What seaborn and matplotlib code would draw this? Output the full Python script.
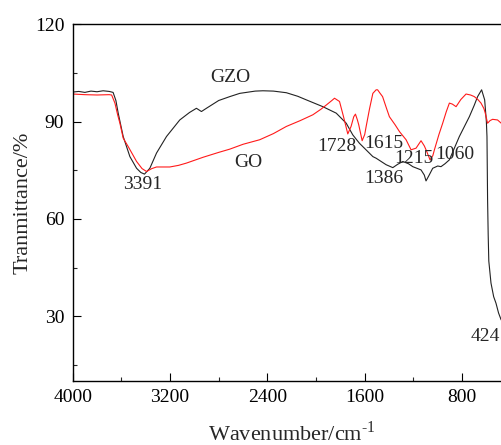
import numpy as np
import pandas as pd
import matplotlib
matplotlib.use("Agg")
import matplotlib.pyplot as plt
import seaborn as sns

# ---- data ----
gzo_wn = [4000, 3950, 3900, 3850, 3800, 3750, 3700, 3668, 3645, 3626, 3585, 3530, 3475,
          3440, 3410, 3366, 3311, 3229, 3120, 3040, 2983, 2942, 2901, 2800, 2709,
          2627, 2500, 2436, 2350, 2244, 2150, 2080, 1944, 1834, 1752, 1698, 1643,
          1616, 1533, 1506, 1424, 1369, 1330, 1287, 1240, 1205, 1137, 1110, 1096,
          1070, 1041, 1000, 973, 940, 904, 822, 740, 700, 672, 639, 614, 600, 595,
          590, 585, 580, 562, 540, 521, 500, 480, 450, 424, 400]
gzo_t = [99.1, 99.3, 99.0, 99.4, 99.2, 99.5, 99.3, 99.0, 96.5, 92.6, 85.4, 79.2, 75.6,
         74.3, 73.8, 75.6, 80.3, 85.4, 90.5, 92.8, 94.1, 93.1, 94.1, 96.5, 97.7,
         98.7, 99.4, 99.5, 99.4, 98.9, 97.8, 96.7, 94.6, 92.6, 89.5, 85.9, 83.3,
         82.3, 79.2, 78.7, 76.7, 75.8, 76.8, 77.7, 77.0, 76.1, 75.1, 73.5, 71.7,
         73.5, 75.6, 76.3, 76.1, 77.0, 78.2, 85.4, 91.5, 95.0, 97.7, 99.8, 96.7, 90.0, 85.4,
         65.9, 55.0, 47.0, 40.2, 36.0, 34.0, 31.0, 29.0, 27.0, 26.0, 25.0]

go_wn = [4000, 3900, 3800, 3700, 3680, 3653, 3630, 3612, 3585, 3544, 3475, 3430, 3393,
         3350, 3311, 3202, 3130, 3065, 2928, 2800, 2709, 2600, 2463, 2350, 2244,
         2130, 2026, 1960, 1916, 1870, 1848, 1807, 1774, 1739, 1712, 1690, 1676,
         1660, 1649, 1621, 1600, 1588, 1560, 1533, 1506, 1494, 1475, 1453, 1420,
         1397, 1350, 1314, 1260, 1219, 1178, 1137, 1110, 1096, 1063, 1040, 1027,
         990, 959, 930, 904, 880, 849, 810, 767, 730, 699, 670, 644, 620, 609,
         590, 570, 549, 508, 478, 450, 424, 400]
go_t = [98.5, 98.3, 98.2, 98.3, 98.2, 95.7, 92.0, 89.5, 84.9, 82.3, 77.7, 75.5, 74.6,
        75.5, 76.0, 76.0, 76.5, 77.2, 79.0, 80.5, 81.5, 83.0, 84.4, 86.3, 88.5,
        90.3, 92.1, 93.8, 95.1, 96.5, 97.2, 96.2, 91.5, 86.2, 88.5, 91.5, 92.3,
        90.5, 89.0, 84.1, 86.0, 88.5, 94.0, 98.7, 99.8, 99.8, 98.8, 97.7, 94.0,
        91.5, 89.0, 86.9, 84.4, 81.3, 81.8, 84.1, 82.5, 81.3, 78.2, 79.5, 81.3,
        86.0, 89.5, 93.0, 95.7, 95.4, 94.6, 96.8, 98.5, 98.2, 97.7, 96.8, 95.7, 94.0, 92.6,
        89.5, 90.3, 90.7, 90.5, 89.5, 89.0, 89.5, 89.0]

peak_labels = ["3391", "1728", "1615", "1215", "1060", "1386", "424"]
peak_x = [3425, 1825, 1447, 1200, 857, 1441, 611]
peak_y = [70.5, 82.3, 83.3, 78.7, 79.7, 72.3, 23.8]

series_names = ["GZO", "GO"]
series_label_x = [2707, 2559]
series_label_y = [103.7, 77.4]

x_ticks = [4000, 3200, 2400, 1600, 800]
y_ticks = [30, 60, 90, 120]

# ---- styling ----
sns.set_theme(style="ticks")
plt.rcParams['font.family'] = ['Liberation Serif', 'DejaVu Serif']
plt.rcParams['mathtext.fontset'] = 'custom'
plt.rcParams['mathtext.rm'] = 'Liberation Serif'

df = pd.concat([
    pd.DataFrame({"wn": gzo_wn, "T": gzo_t, "sample": "GZO"}),
    pd.DataFrame({"wn": go_wn, "T": go_t, "sample": "GO"}),
])

fig = plt.figure(figsize=(5.02, 4.45), dpi=100)
ax = fig.add_axes([72.7 / 502, 1 - 381 / 445, (510.7 - 72.7) / 502, (381 - 24.3) / 445])

sns.lineplot(data=df, x="wn", y="T", hue="sample", hue_order=["GZO", "GO"],
             palette={"GZO": "#222222", "GO": "#ff1a1a"}, linewidth=0.8,
             legend=False, ax=ax, estimator=None)

ax.set_xlim(4000, 400)
ax.set_ylim(10, 120)
ax.set_xticks(x_ticks)
ax.set_xticks([3600, 2800, 2000, 1200, 400], minor=True)
ax.set_yticks(y_ticks)
ax.set_yticks([15, 45, 75, 105], minor=True)
ax.tick_params(axis="both", which="major", direction="in", length=6, width=0.8,
               labelsize=14, colors="black", pad=6)
ax.tick_params(axis="both", which="minor", direction="in", length=3, width=0.8)
ax.tick_params(top=False, right=False, which="both")
for s in ax.spines.values():
    s.set_linewidth(1.0)
    s.set_color("black")

ax.set_xlabel(r"Wavenumber/cm$^{\text{-1}}$", fontsize=16, labelpad=11)
ax.set_ylabel("Tranmittance/%", fontsize=16, labelpad=2)

for lab, x, y in zip(series_names, series_label_x, series_label_y):
    ax.text(x, y, lab, fontsize=14, ha="center", va="center")
for lab, x, y in zip(peak_labels, peak_x, peak_y):
    ax.text(x, y, lab, fontsize=14, ha="center", va="center")

fig.savefig("out.png", dpi=100)
